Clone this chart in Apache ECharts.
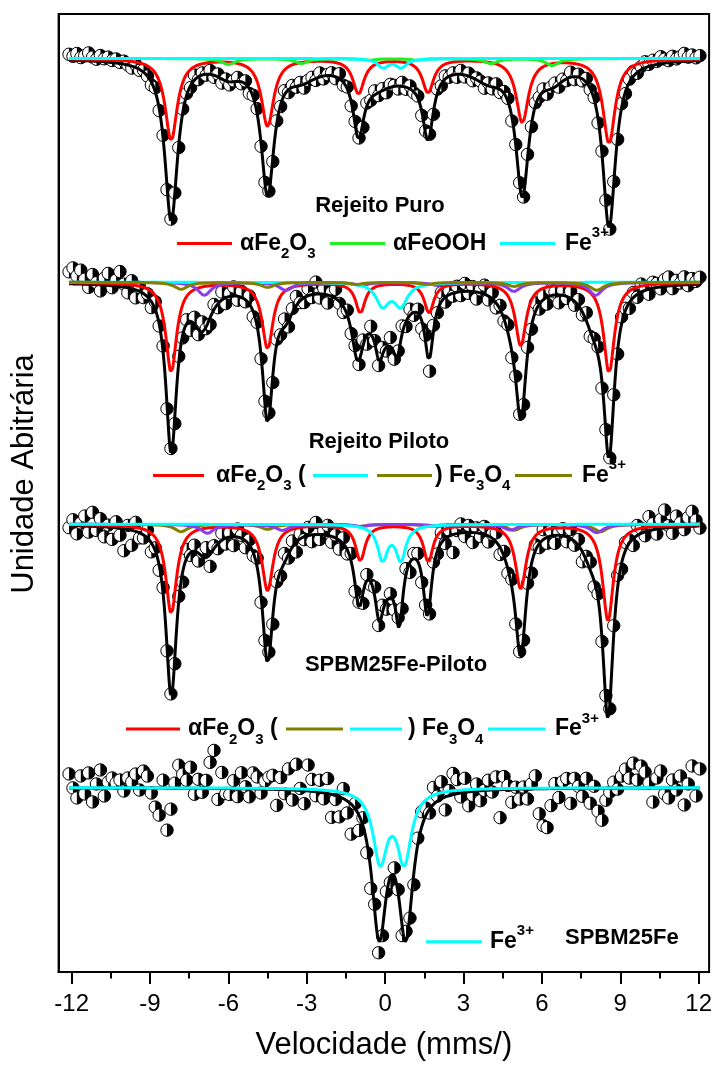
<!DOCTYPE html>
<html>
<head>
<meta charset="utf-8">
<script src="https://cdn.jsdelivr.net/npm/echarts@6/dist/echarts.min.js"></script>
<style>
  html, body { margin: 0; padding: 0; background: #fff; }
  #chart { width: 715px; height: 1071px; }
</style>
</head>
<body>
<div id="chart"></div>
<script>
const FONT = '"Liberation Sans", Arial, Helvetica, sans-serif';

// Velocity scale of the spectrometer channels (mm/s)
const velStart = -12.1;
const velStep = 0.15;
const channelCount = 162;

// Axis ticks
const majorTicks = [-12, -9, -6, -3, 0, 3, 6, 9, 12];
const minorTicks = [-10.5, -7.5, -4.5, -1.5, 1.5, 4.5, 7.5, 10.5];

// Lorentzian lines of each fitted curve: [centre (mm/s), depth (arb.), half width (mm/s)]
// --- Rejeito Puro
const puroTotal = [
  [-8.19, 160, 0.3], [-4.50, 129, 0.3], [-1.02, 61, 0.25], [1.64, 66, 0.25], [5.25, 128, 0.3], [8.57, 166, 0.3],
  [-6.0, 13, 0.6], [-3.2, 15, 0.8], [-0.35, 20, 0.9], [1.0, 12, 0.9], [3.95, 16, 0.8], [6.4, 16, 0.6]
];
const puroHematite = [[-8.19, 81.5, 0.28], [-4.50, 67.5, 0.28], [-1.02, 34.5, 0.26], [1.64, 33.5, 0.26], [5.25, 63.5, 0.28], [8.57, 84.5, 0.28]];
const puroGoethite = [[-6.0, 6, 0.3], [-3.2, 5, 0.3], [-0.6, 1.5, 0.3], [1.2, 1.5, 0.3], [4.05, 5, 0.3], [6.4, 7, 0.3]];
const puroFe3 = [[-0.08, 8.8, 0.25], [0.62, 8.8, 0.25]];

// --- Rejeito Piloto
const pilotoTotal = [
  [-8.19, 165, 0.25], [-4.50, 131, 0.25], [-1.05, 60, 0.28], [1.68, 65, 0.2], [5.2, 118, 0.25], [8.57, 161, 0.25],
  [-7.0, 40, 0.45], [-3.8, 24, 0.4], [4.85, 26, 0.45], [8.0, 32, 0.5],
  [-0.23, 30, 0.18], [0.46, 30, 0.18], [0.1, 45, 0.8]
];
const pilotoHematite = [[-8.19, 89.7, 0.25], [-4.5, 66, 0.25], [-0.95, 30, 0.22], [1.68, 30, 0.22], [5.19, 63, 0.25], [8.57, 90, 0.25]];
const pilotoFe3 = [[-0.1, 22.5, 0.3], [0.6, 22.5, 0.3]];
const pilotoMagB = [[-6.92, 13, 0.3], [-3.8, 8, 0.3], [-0.9, 3, 0.3], [2.0, 3, 0.3], [4.93, 9, 0.3], [8.06, 13, 0.3]];
const pilotoMagA = [[-7.81, 7, 0.3], [-4.5, 5, 0.3], [-1.1, 2, 0.3], [1.6, 2, 0.3], [4.93, 4, 0.3], [8.1, 8, 0.3]];

// --- SPBM25Fe-Piloto
const spmTotal = [
  [-8.19, 168, 0.25], [-4.5, 130, 0.25], [-1.0, 60, 0.22], [1.62, 80, 0.2], [5.19, 120, 0.25], [8.53, 185, 0.25],
  [-6.85, 25, 0.45], [-3.9, 18, 0.4], [4.8, 18, 0.4], [7.9, 22, 0.45],
  [-0.23, 38, 0.17], [0.54, 62, 0.17], [0.0, 55, 0.7]
];
const spmHematite = [[-8.19, 89, 0.25], [-4.5, 66, 0.25], [-0.95, 36, 0.22], [1.65, 37, 0.22], [5.19, 64, 0.25], [8.53, 96, 0.25]];
const spmFe3 = [[-0.1, 34.6, 0.23], [0.6, 34.6, 0.23]];
const spmMagA = [[-7.81, 7.4, 0.3], [-4.5, 5, 0.3], [-1.0, 2, 0.3], [1.7, 2, 0.3], [4.93, 6, 0.3], [8.25, 7.4, 0.3]];
const spmMagB = [[-6.8, 9, 0.3], [-3.93, 6, 0.3], [-0.9, 2, 0.3], [2.0, 2, 0.3], [4.8, 5.7, 0.3], [8.1, 8.4, 0.3]];

// --- SPBM25Fe
const sbmTotal = [[-0.23, 140, 0.34], [0.79, 140, 0.34]];
const sbmFe3 = [[-0.19, 71, 0.33], [0.73, 71, 0.33]];

// Measured points: deviation of each channel from the fitted total (arb.)
const puroScatter = [
  6,4,7,3,5,8,4,2,6,3, 5,2,4,1,3,0,-2,3,-1,2, 0,-3,4,-2,3,-4,2,0,-3,4, 2,-2,5,-3,2,-1,4,-2,3,-4,
  2,-3,1,4,-2,3,-5,2,5,-3, 1,2,-4,3,-2,4,-3,2,-1,3, -4,2,3,-2,4,-3,1,3,-2,5, -3,2,-4,3,1,-5,3,-2,4,-3,
  2,-4,3,1,-3,4,-2,3,-1,2, -4,3,2,-3,4,-2,3,-1,2,-3, 4,-2,3,-3,2,1,-4,3,-2,4, -3,2,3,-4,1,2,-3,4,-2,3,
  -1,3,-4,2,4,-3,2,-2,5,-3, 3,-2,4,-1,2,-4,3,5,-3,2, -3,4,-2,3,5,-1,3,6,2,5, 3,7,4,2,6,3,5,8,4,6, 3,5
];
const pilotoScatter = [
  12,16,8,14,5,-3,10,2,-6,7, 12,-2,6,15,3,-5,8,-8,4,-4, 3,-6,8,-2,6,-4,5,-8,6,-3, 4,-9,7,-5,10,-2,-7,5,-4,8,
  -6,3,9,-4,6,-2,8,-5,4,-3, 3,6,-7,5,-3,8,-6,4,9,-2, -5,7,-3,12,-4,6,-8,4,9,-2, -6,5,-3,7,-4,6,-9,8,3,-5,
  7,-4,9,-6,3,8,-5,6,-3,4, -8,7,-12,6,-2,9,-5,4,-3,6, -4,8,-2,5,-7,3,9,-4,6,-5, 4,-2,8,-6,5,3,-4,7,-3,9,
  -5,4,-7,6,3,-8,5,-2,7,-4, 6,-3,8,-5,4,9,-6,3,-2,5, -4,7,2,-6,5,-3,8,3,-5,6, 4,-2,7,9,-3,5,2,8,-1,6, 3,7
];
const spmScatter = [
  -2,6,-8,3,10,-6,14,-4,8,-10, 2,-12,6,-7,-22,4,-15,9,-5,-3, 8,-9,3,-5,6,-4,2,-7,5,-10, 9,-3,6,-8,4,10,-12,3,-5,7,
  -6,4,-9,8,3,-7,5,-3,9,-6, 4,7,-8,3,-5,9,-4,6,-10,5, -3,8,-7,12,-5,4,10,-6,3,-9, 6,-4,8,-7,5,-10,6,-3,9,-5,
  7,-8,4,-6,9,-4,6,-10,5,8, -6,4,-9,7,-3,10,-5,6,-18,3, 9,-4,7,-10,5,-3,8,-6,4,9, -7,5,-4,8,-6,3,-5,7,-9,6,
  -4,10,-6,5,-8,3,7,-5,9,-4, 6,-10,4,8,-6,5,-3,7,-5,9, 12,-6,8,3,-7,10,5,-4,14,6, -5,9,18,2,-6,11,4,-3,9,15, 6,-2
];
const sbmScatter = [
  14,0,-10,12,-6,15,-14,4,18,-8, 6,10,5,8,-3,10,6,14,-2,17, 12,-5,-19,-27,8,-42,-21,5,23,14, 8,21,-6,9,-4,8,26,38,-11,16,
  -5,-6,8,-8,16,2,-8,16,12,-4, 8,12,14,-16,12,-4,21,-10,26,2, -13,26,12,-4,12,-6,15,-23,-4,-20, 10,-12,-30,5,-15,8,-10,-18,6,-12,
  -8,4,-6,8,4,-10,10,-5,-12,6, 15,8,-4,17,5,17,-13,5,21,14, -4,14,-14,-4,7,-10,0,10,-2,13, -28,13,4,-13,2,-10,2,-10,5,13,
  -25,-37,-39,-17,5,-9,7,10,-15,10, 2,-8,10,-15,2,-23,-32,-12,-4,6, -1,12,19,10,25,8,22,16,5,-14, 10,17,-6,-10,8,-2,12,-17,4,22, -8,19
];

// Vertical stacking of the four spectra (baseline level of each, arb.)
const stackLevels = [913.5, 689.7, 447.7, 184.3];

const RED = '#ff0000', GREEN = '#22ee22', CYAN = '#00ffff', PURPLE = '#8a3cf0', OLIVE = '#808000';

const spectra = [
  { level: stackLevels[0], total: puroTotal, scatter: puroScatter,
    parts: [[puroHematite, RED], [puroGoethite, GREEN], [puroFe3, CYAN]] },
  { level: stackLevels[1], total: pilotoTotal, scatter: pilotoScatter,
    parts: [[pilotoHematite, RED], [pilotoMagB, PURPLE], [pilotoFe3, CYAN], [pilotoMagA, OLIVE]] },
  { level: stackLevels[2], total: spmTotal, scatter: spmScatter,
    parts: [[spmHematite, RED], [spmMagA, OLIVE], [spmMagB, PURPLE], [spmFe3, CYAN]] },
  { level: stackLevels[3], total: sbmTotal, scatter: sbmScatter,
    parts: [[sbmFe3, CYAN]] }
];

function absorption(v, lines) {
  let s = 0;
  for (const [c, d, w] of lines) {
    const t = (v - c) / w;
    s += d / (1 + t * t);
  }
  return s;
}

const velEnd = velStart + velStep * (channelCount - 1);
function curve(level, lines) {
  const out = [];
  const n = Math.round((velEnd - velStart) / 0.01);
  for (let k = 0; k <= n; k++) {
    const v = velStart + k * 0.01;
    out.push([v, level - absorption(v, lines)]);
  }
  return out;
}

const series = [];
// measured points first, fitted curves drawn over them
spectra.forEach(sp => {
  const pts = sp.scatter.map((r, i) => {
    const v = velStart + i * velStep;
    return [v, sp.level - absorption(v, sp.total) + r];
  });
  series.push({
    type: 'custom',
    data: pts,
    z: 2,
    silent: true,
    renderItem: (params, api) => {
      const p = api.coord([api.value(0), api.value(1)]);
      const r = 6.2;
      return {
        type: 'group',
        children: [
          { type: 'circle', shape: { cx: p[0], cy: p[1], r: r }, style: { fill: '#fff', stroke: '#000', lineWidth: 1 } },
          { type: 'sector', shape: { cx: p[0], cy: p[1], r0: 0, r: r, startAngle: -Math.PI / 2, endAngle: Math.PI / 2 },
            style: { fill: '#000' } }
        ]
      };
    }
  });
});
spectra.forEach(sp => {
  const fits = [[sp.total, '#000']].concat(sp.parts);
  fits.forEach(([lines, color]) => {
    series.push({
      type: 'line',
      data: curve(sp.level, lines),
      showSymbol: false,
      symbol: 'none',
      z: 3,
      silent: true,
      lineStyle: { color: color, width: 3 }
    });
  });
});

// Legend rows and spectrum labels
const RICH = {
  b:   { fontSize: 23, fontWeight: 'bold', fontFamily: FONT, lineHeight: 36, verticalAlign: 'middle', fill: '#000' },
  sub: { fontSize: 15, fontWeight: 'bold', fontFamily: FONT, lineHeight: 22, verticalAlign: 'bottom', fill: '#000' },
  sup: { fontSize: 15, fontWeight: 'bold', fontFamily: FONT, lineHeight: 15, verticalAlign: 'top', fill: '#000' }
};
function swatch(x1, x2, y, color) {
  return { type: 'line', z: 100, silent: true, shape: { x1: x1, y1: y, x2: x2, y2: y }, style: { stroke: color, lineWidth: 3 } };
}
function legendText(x, y, text) {
  return { type: 'text', z: 100, silent: true, x: x, y: y,
    style: { text: text, rich: RICH, align: 'left', verticalAlign: 'middle', font: 'bold 23px ' + FONT, fill: '#000' } };
}
function plainText(x, y, text, align, size) {
  return { type: 'text', z: 100, silent: true, x: x, y: y,
    style: { text: text, align: align, verticalAlign: 'middle', font: 'bold ' + size + 'px ' + FONT, fill: '#000' } };
}
const HEM = '{b|αFe}{sub|2}{b|O}{sub|3}';
const FE3 = '{b|Fe}{sup|3+}';
const MAG_CLOSE = '{b|) Fe}{sub|3}{b|O}{sub|4}';

const graphics = [
  // Rejeito Puro
  plainText(380, 206, 'Rejeito Puro', 'center', 22),
  swatch(177, 232, 243.5, RED), legendText(240, 243.5, HEM),
  swatch(330, 385, 243.5, GREEN), legendText(393, 243.5, '{b|αFeOOH}'),
  swatch(500, 555, 243.5, CYAN), legendText(565, 243.5, FE3),
  // Rejeito Piloto
  plainText(379, 442, 'Rejeito Piloto', 'center', 22),
  swatch(153, 204, 475.5, RED), legendText(216, 475.5, HEM + '{b| (}'),
  swatch(313, 368, 475.5, CYAN), swatch(377, 432, 475.5, OLIVE),
  legendText(435, 475.5, MAG_CLOSE),
  swatch(515, 572, 475.5, OLIVE), legendText(582, 475.5, FE3),
  // SPBM25Fe-Piloto
  plainText(396, 665, 'SPBM25Fe-Piloto', 'center', 22),
  swatch(126, 180, 729, RED), legendText(188, 729, HEM + '{b| (}'),
  swatch(286, 343, 729, OLIVE), swatch(350, 402, 729, CYAN),
  legendText(408, 729, MAG_CLOSE),
  swatch(488, 545, 729, CYAN), legendText(555, 729, FE3),
  // SPBM25Fe
  swatch(426, 482, 941.7, CYAN), legendText(490, 941.7, FE3),
  plainText(565, 938, 'SPBM25Fe', 'left', 22),
  // vertical axis title
  { type: 'text', silent: true, x: 24, y: 474, rotation: Math.PI / 2,
    style: { text: 'Unidade Abitrária', align: 'center', verticalAlign: 'middle', font: '31px ' + FONT, fill: '#000' } }
];

const chart = echarts.init(document.getElementById('chart'), null, { renderer: 'canvas' });
chart.setOption({
  animation: false,
  backgroundColor: '#fff',
  grid: { left: 58.6, right: 5.3, top: 14, bottom: 99, show: true, borderColor: '#000', borderWidth: 2, backgroundColor: 'transparent' },
  xAxis: [
    {
      type: 'value', min: -12.5, max: 12.4, position: 'bottom',
      name: 'Velocidade (mms/)', nameLocation: 'middle', nameGap: 58,
      nameTextStyle: { fontSize: 31, color: '#000', fontFamily: FONT },
      axisLine: { show: true, onZero: false, lineStyle: { color: '#000', width: 2 } },
      axisTick: { show: true, customValues: majorTicks, length: 12, inside: false, lineStyle: { color: '#000', width: 2 } },
      axisLabel: { show: true, customValues: majorTicks, fontSize: 24, color: '#000', fontFamily: FONT, margin: 20 },
      splitLine: { show: false }
    },
    {
      type: 'value', min: -12.5, max: 12.4, position: 'bottom', offset: 0,
      axisLine: { show: false, onZero: false },
      axisTick: { show: true, customValues: minorTicks, length: 6.5, inside: false, lineStyle: { color: '#000', width: 2 } },
      axisLabel: { show: false },
      splitLine: { show: false }
    }
  ],
  yAxis: {
    type: 'value', min: 0, max: 958, position: 'left',
    axisLine: { show: true, onZero: false, lineStyle: { color: '#000', width: 2 } },
    axisTick: { show: false }, axisLabel: { show: false }, splitLine: { show: false }
  },
  graphic: graphics,
  series: series
});
</script>
</body>
</html>
